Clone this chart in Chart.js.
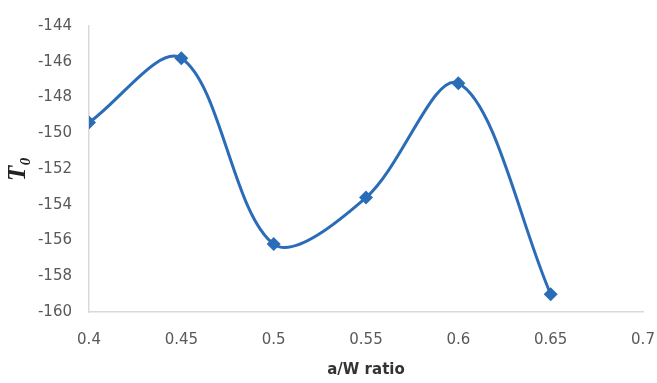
<!DOCTYPE html>
<html>
<head>
<meta charset="utf-8">
<script src="https://cdn.jsdelivr.net/npm/chart.js@4/dist/chart.umd.min.js"></script>
<style>
  html, body { margin: 0; padding: 0; background: #fff; }
  #wrap { width: 657px; height: 383px; }
</style>
</head>
<body>
<div id="wrap"><canvas id="toChart" width="657" height="383"></canvas></div>
<script>
// values
const ratios = [0.4, 0.45, 0.5, 0.55, 0.6, 0.65];
const t0Values = [-149.4, -145.8, -156.2, -153.6, -147.2, -159.0];
const xTicks = [0.4, 0.45, 0.5, 0.55, 0.6, 0.65, 0.7];
const yTicks = [-160, -158, -156, -154, -152, -150, -148, -146, -144];

const blue = '#2b6cb8';
const labelColor = '#595959';
const axisColor = '#d9d9d9';

const points = ratios.map((r, i) => ({ x: r, y: t0Values[i] }));

const ctx = document.getElementById('toChart').getContext('2d');
new Chart(ctx, {
    type: 'line',
    data: {
        datasets: [{
            data: points,
            borderColor: blue,
            backgroundColor: blue,
            borderWidth: 3,
            tension: 0.33,
            pointStyle: 'rectRot',
            pointRadius: 7,
            pointHoverRadius: 7,
            pointBorderWidth: 0,
            fill: false
        }]
    },
    options: {
        responsive: false,
        animation: false,
        layout: { padding: { left: 0, right: 0, top: 17, bottom: 0 } },
        plugins: {
            legend: { display: false },
            tooltip: { enabled: false }
        },
        scales: {
            x: {
                type: 'linear',
                min: 0.4,
                max: 0.7,
                afterBuildTicks: axis => { axis.ticks = xTicks.map(v => ({ value: v })); },
                afterFit: axis => { axis.height = 71; axis.paddingRight = 14; },
                ticks: {
                    color: labelColor,
                    font: { family: 'DejaVu Sans', size: 15 },
                    padding: 19,
                    maxRotation: 0,
                    callback: v => String(+v.toFixed(2))
                },
                grid: { display: false, drawTicks: false },
                border: { color: axisColor, width: 1.5 },
                title: {
                    display: true,
                    text: 'a/W ratio',
                    color: '#333',
                    font: { family: 'DejaVu Sans', size: 15, weight: 'bold' },
                    padding: { top: 0 }
                }
            },
            y: {
                min: -160,
                max: -144,
                afterBuildTicks: axis => { axis.ticks = yTicks.map(v => ({ value: v })); },
                afterFit: axis => { axis.width = 89; },
                ticks: {
                    color: labelColor,
                    font: { family: 'DejaVu Sans', size: 15 },
                    padding: 17
                },
                grid: { display: false, drawTicks: false },
                border: { color: axisColor, width: 1.5 },
                title: {
                    display: true,
                    text: 'T\u2080',
                    color: '#222',
                    font: { family: 'Liberation Serif', size: 25, weight: 'bold', style: 'italic' },
                    padding: { bottom: 0 }
                }
            }
        }
    }
});
</script>
</body>
</html>
